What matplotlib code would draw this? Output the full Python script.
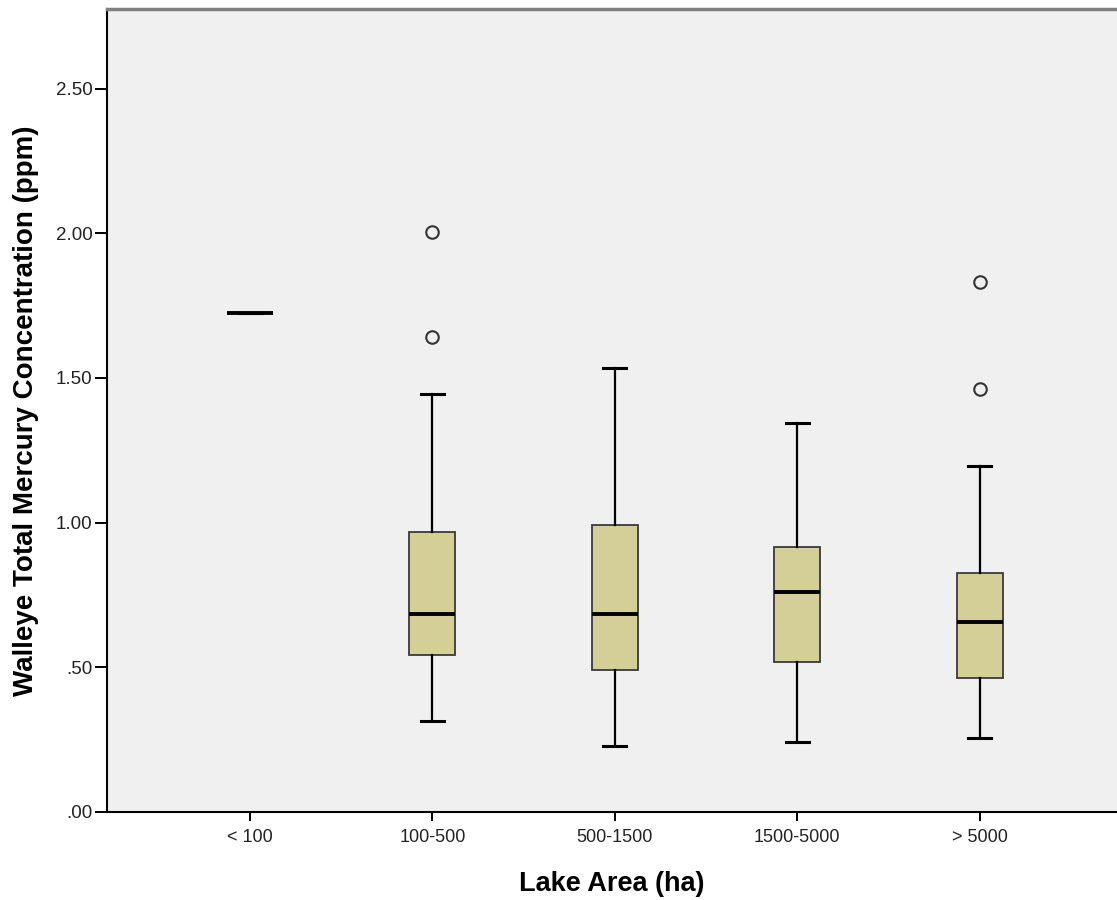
import matplotlib
matplotlib.use("Agg")
import matplotlib.pyplot as plt

plt.rcParams['font.family'] = ['Liberation Sans', 'DejaVu Sans']

# values (ppm)
groups = ["< 100", "100-500", "500-1500", "1500-5000", "> 5000"]
whis_lo = [1.723, 0.315, 0.228, 0.243, 0.257]
q1 = [1.723, 0.542, 0.491, 0.517, 0.462]
medians = [1.723, 0.683, 0.683, 0.761, 0.655]
q3 = [1.723, 0.969, 0.992, 0.917, 0.825]
whis_hi = [1.723, 1.443, 1.533, 1.343, 1.196]
outliers = [[], [2.003, 1.640], [], [], [1.832, 1.461]]

yticks = [0.0, 0.5, 1.0, 1.5, 2.0, 2.5]
ytick_labels = [".00", ".50", "1.00", "1.50", "2.00", "2.50"]

stats = []
for i, g in enumerate(groups):
    stats.append(dict(label=g, whislo=whis_lo[i], q1=q1[i], med=medians[i],
                      q3=q3[i], whishi=whis_hi[i], fliers=outliers[i]))

fig = plt.figure(figsize=(11.17, 9.0), dpi=100)
ax = fig.add_axes([107 / 1117, 1 - 812 / 900, 1 - 107 / 1117, (812 - 9) / 900])
ax.set_facecolor("#f0f0f0")

positions = list(range(1, len(groups) + 1))
bp = ax.bxp(stats, positions=positions, widths=0.252, patch_artist=True,
            boxprops=dict(facecolor="#d4cf97", edgecolor="#3a3a3a", linewidth=1.3),
            medianprops=dict(color="black", linewidth=2.8, solid_capstyle="butt"),
            whiskerprops=dict(color="black", linewidth=1.6),
            capprops=dict(color="black", linewidth=2.2),
            capwidths=0.126,
            flierprops=dict(marker="o", markersize=9, markerfacecolor="none",
                            markeredgecolor="#333333", markeredgewidth=1.5))

ax.set_xlim(0.216, 5.753)
ax.set_ylim(0, 2.775)
ax.set_yticks(yticks)
ax.set_yticklabels(ytick_labels)
ax.set_xticks(positions)
ax.set_xticklabels(groups)

ax.tick_params(axis="y", length=8.5, width=1.4, pad=2, labelsize=13.5, labelcolor="#222222")
ax.tick_params(axis="x", length=6.5, width=1.4, pad=6, labelsize=13, labelcolor="#222222")

for side in ["left", "bottom"]:
    ax.spines[side].set_color("black")
    ax.spines[side].set_linewidth(1.5)
ax.spines["top"].set_color("#808080")
ax.spines["top"].set_linewidth(2.5)
ax.spines["right"].set_visible(False)

ax.set_xlabel("Lake Area (ha)", fontsize=19.5, fontweight="bold", va="center")
ax.xaxis.set_label_coords(0.5, (812 - 884) / 803)
ax.set_ylabel("Walleye Total Mercury Concentration (ppm)", fontsize=20,
              fontweight="bold", va="center", ha="center")
ax.yaxis.set_label_coords((26 - 107) / 1010, 0.5)

fig.savefig("out.png", dpi=100)
